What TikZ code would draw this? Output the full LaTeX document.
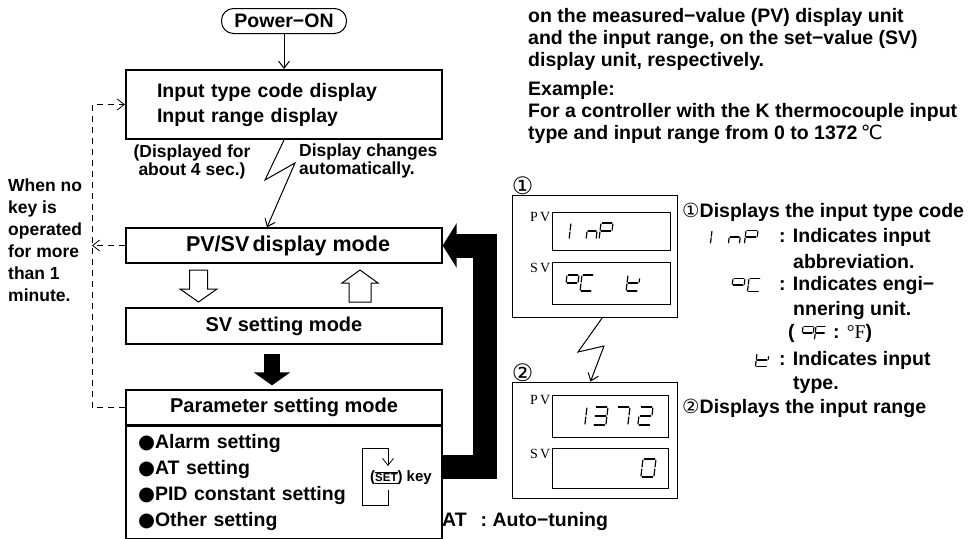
\documentclass[tikz,border=0pt]{standalone}
\usepackage{fontspec}
\setmainfont{Liberation Sans}
\newfontfamily\symfont{DejaVu Sans}
\newfontfamily\tagfont{Liberation Serif}
\usetikzlibrary{arrows.meta}

% seven segment strokes in a unit cell, y pointing down
\newcommand\sega{(0.1,0)--(0.9,0)}
\newcommand\segb{(1,0.06)--(1,0.44)}
\newcommand\segc{(1,0.56)--(1,0.94)}
\newcommand\segd{(0.1,1)--(0.9,1)}
\newcommand\sege{(0,0.56)--(0,0.94)}
\newcommand\segf{(0,0.06)--(0,0.44)}
\newcommand\segg{(0.1,0.5)--(0.9,0.5)}
\newcommand\segk{(1,0.24)--(1,0.44)}
% \lcd{left}{top}{width}{height}{segments}
\newcommand\lcd[5]{%
  \begin{scope}[shift={(#1,#2)}, x=#3pt, y=-#4pt, xslant=0.12, line width=1.2pt, line cap=round]
    \foreach \s in {#5} {\expandafter\expandafter\expandafter\draw\csname seg\s\endcsname;}
  \end{scope}}

\begin{document}
\begin{tikzpicture}[x=1pt, y=-1pt,
  font=\bfseries\fontsize{19.5}{24}\selectfont,
  modebox/.style={draw, line width=1.3pt, minimum width=316pt, minimum height=35pt, inner sep=0pt, font=\bfseries\fontsize{20}{24}\selectfont},
  barb/.style={line width=1pt, -{Straight Barb[length=7pt,width=11pt]}},
  notetext/.style={font=\bfseries\fontsize{17.5}{17.5}\selectfont, inner sep=0pt},
  prosetext/.style={font=\bfseries\fontsize{19.5}{22}\selectfont, inner sep=0pt, align=left},
  lcdbox/.style={draw, line width=0.9pt, inner sep=0pt},
  lcdtag/.style={font=\tagfont\fontsize{14}{14}\selectfont, inner sep=1pt},
  hollowarrow/.style={draw, line width=1pt, fill=white, line join=miter},
  fatarrow/.style={line width=24pt, line join=miter, -{Triangle[length=14pt,width=44pt]}},
  droparrow/.style={line width=16pt, -{Triangle[length=13pt,width=36pt]}},
  loopline/.style={line width=0.8pt, dash pattern=on 6pt off 5pt}
]
\useasboundingbox (0,0) rectangle (974,538);

% flow chart
\node[draw, line width=1pt, rounded corners=12pt, minimum width=125pt, minimum height=25pt, inner sep=0pt] (power) at (284,21) {Power−ON};
\node[modebox, line width=2.2pt, minimum height=69pt, text width=254pt, align=left, font=\bfseries\fontsize{19.5}{25}\selectfont] (codes) at (284,104.5) {Input type code display\\Input range display};
\node[modebox, font=\bfseries\fontsize{21.5}{24}\selectfont] (pvsv) at (284,245.5) {\hspace{8pt}PV/SV\hspace{0.15em}display mode};
\node[modebox, minimum height=36pt] (svset) at (284,326) {SV setting mode};
\node[modebox] (partitle) at (284,407.5) {Parameter setting mode};
\node[modebox, anchor=north, minimum height=112pt, text width=292pt, align=left, font=\bfseries\fontsize{19.5}{26}\selectfont] (parlist) at (partitle.south) {{\symfont●}Alarm setting\\{\symfont●}AT setting\\{\symfont●}PID constant setting\\{\symfont●}Other setting};

\node[notetext, align=center] (shown) at (192,162) {(Displayed for\\about 4 sec.)};
\node[notetext, align=left, anchor=west] (auto) at (299,161) {Display changes\\automatically.};
\node[notetext, align=left, anchor=west, font=\bfseries\fontsize{17.5}{22}\selectfont] (idle) at (8,240) {When no\\key is\\operated\\for more\\than 1\\minute.};

\draw[barb] (power) -- (codes);
\draw[barb] (codes.south) -- (265,180) -- (295,163) -- ([xshift=-17pt]pvsv.north);

% hollow arrows between display and SV setting
\draw[hollowarrow] (189.5,270) -- (207.5,270) -- (207.5,289) -- (217,289) -- (198.5,302) -- (180,289) -- (189.5,289) -- cycle;
\draw[hollowarrow] (349,302) -- (349,283) -- (342,283) -- (360,270) -- (378,283) -- (371,283) -- (371,302) -- cycle;

\draw[droparrow, shorten <=9pt, shorten >=4pt] ([xshift=-12pt]svset.south) -- ([xshift=-12pt]partitle.north);
\draw[fatarrow] ([yshift=15pt]parlist.east) -| (484.5,245.5) -- (pvsv.east);

% return after one minute
\coordinate (loopbot) at (92,407.5);
\coordinate (looptop) at (92,104.5);
\draw[loopline, barb, line width=0.8pt] (partitle.west) -- (loopbot) -- (looptop) -- (codes.west);
\draw[loopline, barb, line width=0.8pt] (pvsv.west) -- (pvsv.west -| looptop);

% SET key loop
\node[inner sep=0pt, font=\bfseries\fontsize{15}{15}\selectfont] (setkey) at (401,478) {({\fontsize{11.5}{11.5}\selectfont$\overline{\mbox{\underline{SET}}}$}) key};
\draw[barb, line width=0.8pt] (388,490) -- (388,505) -- (362,505) -- (362,448) -- (388,448) -- (388,466);

\node[prosetext, anchor=west] (atnote) at (442,521) {AT\hspace{14pt}: Auto−tuning};

% explanation text
\node[prosetext, anchor=north west] (intro) at (528,8) {on the measured−value (PV) display unit\\and the input range, on the set−value (SV)\\display unit, respectively.};
\node[prosetext, anchor=north west] (example) at (528,81) {Example:\\For a controller with the K thermocouple input\\type and input range from 0 to 1372\,{\symfont\mdseries ℃}};

% display unit 1
\node[lcdbox, minimum width=165pt, minimum height=122pt] (disp1) at (594.5,256) {};
\node[lcdbox, minimum width=118pt, minimum height=38pt] (pv1) at (611,231) {};
\node[lcdbox, minimum width=118pt, minimum height=42pt] (sv1) at (611,283) {};
\node[lcdtag, anchor=north east] (pv1tag) at (pv1.north west) {P\,V};
\node[lcdtag, anchor=north east] (sv1tag) at (sv1.north west) {S\,V};
\node[inner sep=0pt, anchor=south west, font=\symfont\mdseries\fontsize{24}{24}\selectfont] (mark1) at (disp1.north west) {①};
\lcd{561}{223}{10}{16}{b,c}
\lcd{588}{223}{10}{16}{c,e,g}
\lcd{601}{223}{12}{16}{a,b,f,g,e}
\lcd{567}{275}{12}{16}{a,b,f,g}
\lcd{582}{275}{12}{16}{a,f,e,d}
\lcd{628}{275}{12}{16}{f,e,g,d,k}

% display unit 2
\node[lcdbox, minimum width=165pt, minimum height=116pt] (disp2) at (594.5,440) {};
\node[lcdbox, minimum width=116pt, minimum height=42pt] (pv2) at (610,416) {};
\node[lcdbox, minimum width=116pt, minimum height=40pt] (sv2) at (610,468) {};
\node[lcdtag, anchor=north east] (pv2tag) at (pv2.north west) {P\,V};
\node[lcdtag, anchor=north east] (sv2tag) at (sv2.north west) {S\,V};
\node[inner sep=0pt, anchor=south west, font=\symfont\mdseries\fontsize{24}{24}\selectfont] (mark2) at (disp2.north west) {②};
\lcd{576}{407}{11}{18}{b,c}
\lcd{595}{407}{13}{18}{a,b,g,c,d}
\lcd{617}{407}{13}{18}{a,b,c}
\lcd{640}{407}{13}{18}{a,b,g,e,d}
\lcd{643}{459}{13}{18}{a,b,c,d,e,f}

\draw[barb] ([xshift=8pt]disp1.south) -- (578,352) -- (604,346) -- ([xshift=-4pt]disp2.north);

% legend
\node[prosetext, anchor=west] (leg1) at (682,212) {{\symfont\mdseries ①}Displays the input type code};
\lcd{701}{230.5}{11}{13}{b,c}
\lcd{730}{230.5}{11}{13}{c,e,g}
\lcd{746}{230.5}{12}{13}{a,b,f,g,e}
\node[prosetext, anchor=west] (leg2) at (779,237) {: Indicates input};
\node[prosetext, anchor=west] (leg3) at (793,262) {abbreviation.};
\lcd{733}{278.5}{12}{13}{a,b,f,g}
\lcd{749}{278.5}{12}{13}{a,f,e,d}
\node[prosetext, anchor=west] (leg4) at (779,285) {: Indicates engi−};
\node[prosetext, anchor=west] (leg5) at (793,310) {nnering unit.};
\node[prosetext, anchor=west] (leg6a) at (788,333) {(};
\lcd{803}{326.5}{11}{13}{a,b,f,g}
\lcd{816}{326.5}{10}{13}{a,f,g,e}
\node[prosetext, anchor=west] (leg6b) at (833,333) {: {\tagfont\mdseries °F})};
\lcd{757}{353.5}{12}{13}{f,e,g,d,k}
\node[prosetext, anchor=west] (leg7) at (779,360) {: Indicates input};
\node[prosetext, anchor=west] (leg8) at (793,385) {type.};
\node[prosetext, anchor=west] (leg9) at (682,408) {{\symfont\mdseries ②}Displays the input range};
\end{tikzpicture}
\end{document}
